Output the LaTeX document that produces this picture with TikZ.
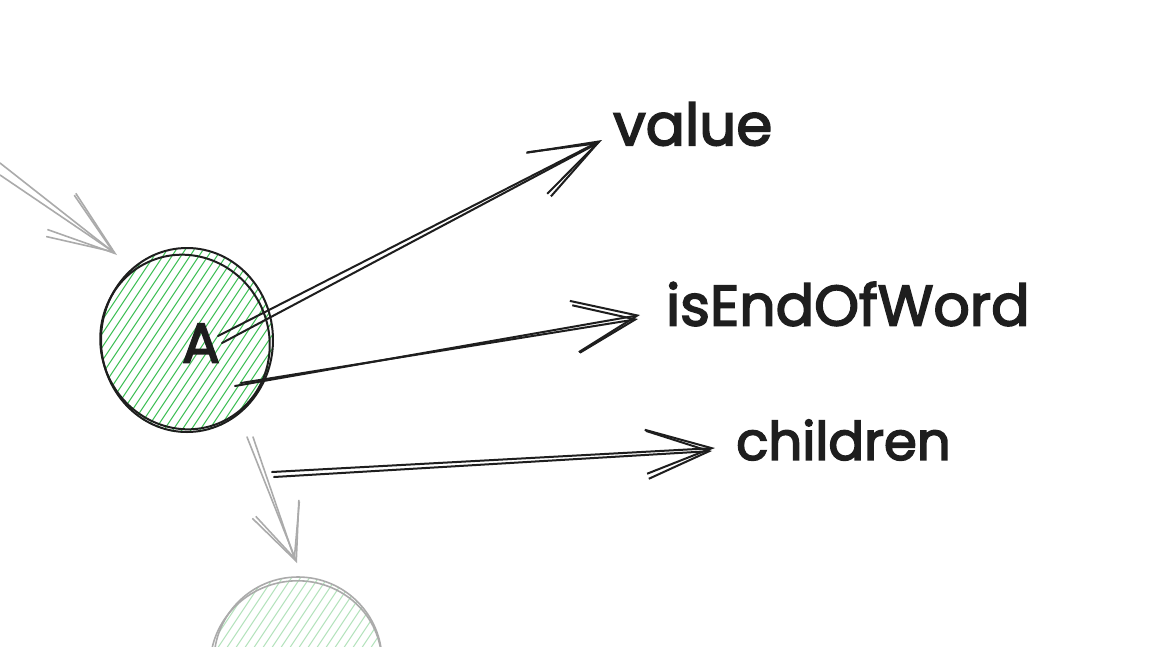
\documentclass[tikz,border=0pt]{standalone}
\usepackage{fontspec}
\setmainfont{Poppins}
\newfontfamily\handfont{Poppins}[FakeBold=3]
\usetikzlibrary{arrows.meta}
\definecolor{ink}{HTML}{1E1E1E}
\definecolor{hatch}{HTML}{40C057}
\definecolor{hatchlight}{HTML}{B5E3BD}
\definecolor{ghost}{HTML}{ABABAB}
\begin{document}
\begin{tikzpicture}[x=1pt,y=-1pt,
  sketch/.style={line width=2pt, line cap=round, line join=round},
  thin sketch/.style={line width=1.6pt, line cap=round, line join=round},
  hatchline/.style={hatch, line width=1pt},
  hatchlinelight/.style={hatchlight, line width=1pt},
  label text/.style={anchor=west, inner sep=0pt, text=ink},
  nodecircle/.style={circle, minimum size=176pt, inner sep=0pt}
]
\useasboundingbox (0,0) rectangle (1176,646);
\fill[white] (0,0) rectangle (1176,646);

% ---- node A ----
\node[nodecircle] (A) at (187,340) {};
\begin{scope}
  \clip (187,341) ellipse (86 and 92);
  \foreach \i in {-260,-251,...,260}
    \draw[hatchline] (187+\i-80,340+120) -- (187+\i+80,340-120);
\end{scope}
\draw[sketch, ink] (187,340) ellipse (86 and 92);
\draw[sketch, ink, rotate around={25:(185,342)}] (185,342) ellipse (84 and 88);
\node[text=ink, inner sep=0pt, font=\handfont\fontsize{56}{56}\selectfont] (Atext) at (201,343) {A};

% ---- node B (partial, faded) ----
\node[nodecircle, minimum size=168pt] (B) at (298,661) {};
\begin{scope}
  \clip (298,661) circle (84);
  \foreach \i in {-260,-251,...,260}
    \draw[hatchlinelight] (298+\i-80,661+120) -- (298+\i+80,661-120);
\end{scope}
\draw[thin sketch, ghost] (298,661) circle (84);
\draw[thin sketch, ghost, rotate around={15:(296,664)}] (296,664) ellipse (86 and 83);

% ---- labels ----
\node[label text, font=\handfont\fontsize{58}{64}\selectfont] (value) at (613,124) {value};
\node[label text, font=\handfont\fontsize{57}{64}\selectfont] (isEnd) at (666,304) {isEndOfWord};
\node[label text, font=\handfont\fontsize{53}{64}\selectfont] (children) at (736,440) {children};

% ---- endpoints ----
\coordinate (a1) at (218,336);
\coordinate (a2) at (235,386);
\coordinate (a3) at (272,472);
\coordinate (vt) at (602,140);
\coordinate (et) at (640,315);
\coordinate (ct) at (715,448);
\coordinate (inS) at (0,163);
\coordinate (inT) at (117,255);
\coordinate (dnS) at (247,437);
\coordinate (dnT) at (297,563);

% ---- arrows from A ----
\draw[sketch, ink, -{Straight Barb[length=70pt,width=46pt]}] (a1) -- (vt);
\draw[sketch, ink, -{Straight Barb[length=66pt,width=50pt]}] ([shift={(4,7)}]a1) -- ([shift={(-2,2)}]vt);

\draw[sketch, ink, -{Straight Barb[length=64pt,width=52pt]}] (a2) -- (et);
\draw[sketch, ink, -{Straight Barb[length=60pt,width=48pt]}] ([shift={(6,-3)}]a2) -- ([shift={(-2,4)}]et);

\draw[sketch, ink, -{Straight Barb[length=66pt,width=44pt]}] (a3) -- (ct);
\draw[sketch, ink, -{Straight Barb[length=62pt,width=48pt]}] ([shift={(2,5)}]a3) -- ([shift={(-3,3)}]ct);

% ---- grey arrows ----
\draw[thin sketch, ghost, -{Straight Barb[length=68pt,width=46pt]}] (inS) -- (inT);
\draw[thin sketch, ghost, -{Straight Barb[length=64pt,width=50pt]}] ([shift={(0,12)}]inS) -- ([shift={(-2,-2)}]inT);

\draw[thin sketch, ghost, -{Straight Barb[length=56pt,width=50pt]}] (dnS) -- (dnT);
\draw[thin sketch, ghost, -{Straight Barb[length=52pt,width=46pt]}] ([shift={(6,0)}]dnS) -- ([shift={(-2,-3)}]dnT);
\end{tikzpicture}
\end{document}
